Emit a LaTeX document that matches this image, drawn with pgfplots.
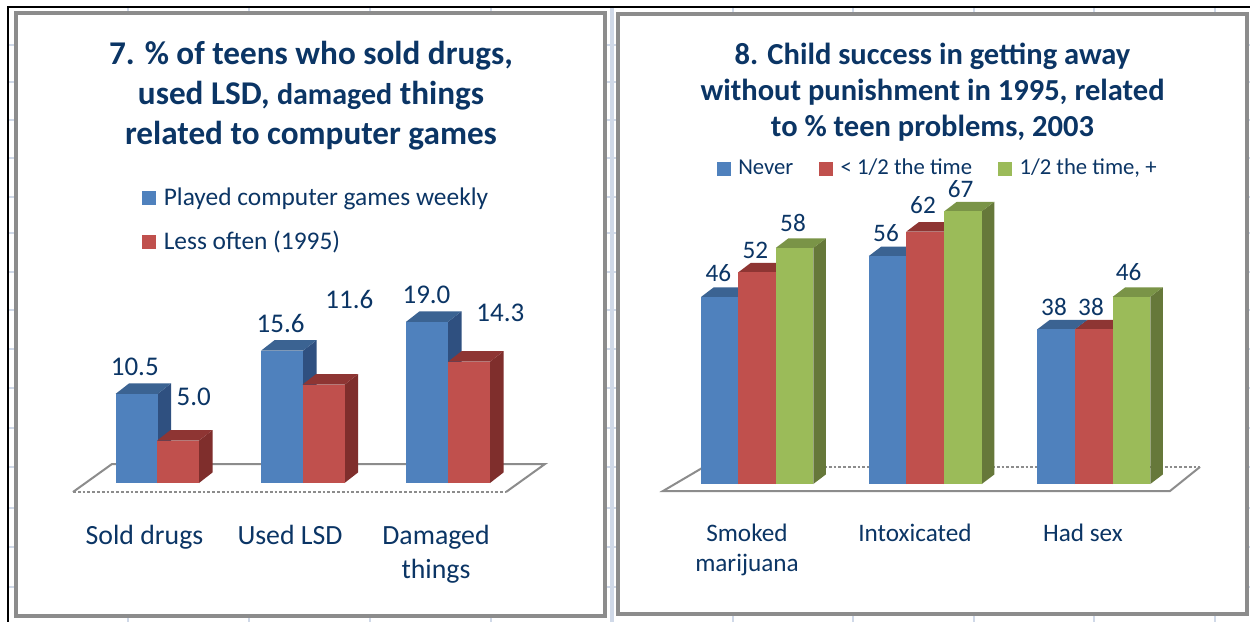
\documentclass[border=0pt]{standalone}
\usepackage{fontspec}
\setmainfont{Carlito}
\usepackage{pgfplots}
\pgfplotsset{compat=1.18}

\definecolor{ink}{HTML}{0B3565}
\definecolor{gridfaint}{HTML}{D0D9E8}
\definecolor{panel}{HTML}{8C8C8C}
\definecolor{bluefront}{HTML}{4F81BD}
\definecolor{blueside}{HTML}{2F5080}
\definecolor{bluetop}{HTML}{3B6392}
\definecolor{redfront}{HTML}{C0504D}
\definecolor{redside}{HTML}{7F2E2C}
\definecolor{redtop}{HTML}{8E3533}
\definecolor{greenfront}{HTML}{9BBB59}
\definecolor{greenside}{HTML}{66783A}
\definecolor{greentop}{HTML}{7A9447}

% one bar: centre x, value, colour stem; uses \bw, \dx and \dyv of the axis
\newcommand{\threedbar}[3]{%
  \addplot[fill=#3side,draw=none,forget plot] coordinates {
    (\fpeval{#1+\bw/2},0) (\fpeval{#1+\bw/2+\dx},\dyv)
    (\fpeval{#1+\bw/2+\dx},\fpeval{#2+\dyv}) (\fpeval{#1+\bw/2},#2)};
  \addplot[fill=#3top,draw=none,forget plot] coordinates {
    (\fpeval{#1-\bw/2},#2) (\fpeval{#1-\bw/2+\dx},\fpeval{#2+\dyv})
    (\fpeval{#1+\bw/2+\dx},\fpeval{#2+\dyv}) (\fpeval{#1+\bw/2},#2)};
  \addplot[ybar,bar width=\bw,bar shift=0pt,fill=#3front,draw=none,forget plot]
    coordinates {(#1,#2)};
}
% value text at page position: x is already in axis units, y goes through base and scale
\newcommand{\vlabel}[3]{\node[text=ink,font=\valfont] at (axis cs:#1,{(\basey-#2)/\scaley}) {#3};}

\pgfplotsset{
  panel axis/.style={
    scale only axis, clip=false,
    axis line style={draw=none}, tick style={draw=none},
    ytick=\empty,
    xticklabel style={align=center,text=ink,anchor=north},
    legend cell align=left,
    legend style={draw=none,fill=none,text=ink},
    legend image code/.code={\fill[##1,draw=none] (0pt,-3.5pt) rectangle (7pt,3.5pt);
      \path (8.5pt,0pt);},
  },
}

\begin{document}
\begin{tikzpicture}
\path[use as bounding box,fill=white] (0,0) rectangle (625pt,-311pt);

% sheet grid behind the two panels
\foreach \yy in {45,82,120,158,197,233,272,310,349,388,428,467,508,547,587}
  \draw[gridfaint,line width=1.3pt] ({9*0.5pt},{-\yy*0.5pt}) -- ({1250*0.5pt},{-\yy*0.5pt});
\foreach \xx in {128,249,370,491,733,853,974,1094,1215}
  \draw[gridfaint,line width=1.3pt] ({\xx*0.5pt},{-8*0.5pt}) -- ({\xx*0.5pt},{-622*0.5pt});
\draw[gridfaint,line width=2pt] (306pt,-4pt) -- (306pt,-311pt);

% sheet edge
\draw[black,line width=1.1pt] (4pt,-311pt) -- (4pt,-3.5pt) -- (625pt,-3.5pt);

% panels
\draw[panel,fill=white,line width=1.6pt] (8pt,-6.5pt) rectangle (302.5pt,-308pt);
\draw[panel,fill=white,line width=1.6pt] (309pt,-7pt) rectangle (623.5pt,-307pt);

% ---- left chart ----
\begin{axis}[
  panel axis,
  at={(8pt,-250pt)}, anchor=south west,
  width=295pt, height=243.5pt,
  xmin=16, xmax=606, ymin=-2.005, ymax=55.42,
  xtick={144.5,290,436},
  xticklabels={Sold drugs,Used LSD,{Damaged\\things}},
  xticklabel style={font=\fontsize{13.9}{17}\selectfont,yshift=-9pt},
  title={7. \% of teens who sold drugs,\\used LSD, {\fontsize{15}{20}\selectfont damaged} things\\related to computer games},
  title style={at={(axis description cs:0.5,0.8049)},anchor=center,align=center,text=ink,yshift=0pt,
    font=\fontsize{16.6}{20}\selectfont\bfseries},
  legend style={at={(axis description cs:0.2034,0.659)},anchor=north west,
    font=\fontsize{12.7}{15}\selectfont,row sep=7.5pt},
]
\def\bw{42}\def\dx{13.5}\def\dyv{1.24}
\def\basey{483}\def\scaley{8.48}
\def\valfont{\fontsize{13.5}{15}\selectfont}

% floor
\addplot[panel,line width=1pt,forget plot] coordinates {(73,-1.06) (112,2.24) (545,2.24) (506,-1.06)};
\addplot[panel,line width=1.4pt,densely dotted,forget plot] coordinates {(73,-1.06) (506,-1.06)};

\threedbar{136.5}{10.5}{blue}
\threedbar{178}{5.0}{red}
\threedbar{282}{15.6}{blue}
\threedbar{323.5}{11.6}{red}
\threedbar{427}{19.0}{blue}
\threedbar{469}{14.3}{red}

\vlabel{134.8}{366.7}{10.5}
\vlabel{193.7}{397}{5.0}
\vlabel{280.6}{323}{15.6}
\vlabel{349.4}{299}{11.6}
\vlabel{426.5}{294.7}{19.0}
\vlabel{500.4}{312.7}{14.3}

\addlegendimage{fill=bluefront}
\addlegendentry{Played computer games weekly}
\addlegendimage{fill=redfront}
\addlegendentry{Less often (1995)}
\end{axis}

% ---- right chart ----
\begin{axis}[
  panel axis,
  at={(309pt,-250pt)}, anchor=south west,
  width=314.5pt, height=243pt,
  xmin=618, xmax=1247, ymin=-3.93, ymax=115.48,
  xtick={747,915,1083},
  xticklabels={{Smoked\\marijuana},Intoxicated,Had sex},
  xticklabel style={font=\fontsize{12.6}{15}\selectfont,yshift=-8.5pt},
  title={8. Child success in getting away\\without punishment in 1995, related\\to \% teen problems, 2003},
  title style={at={(axis description cs:0.5,0.8153)},anchor=center,align=center,text=ink,yshift=0pt,
    font=\fontsize{15.26}{18}\selectfont\bfseries},
  legend columns=3,
  legend style={at={(axis description cs:0.147,0.7185)},anchor=north west,
    font=\fontsize{11.35}{13}\selectfont,
    /tikz/every even column/.append style={column sep=11pt}},
]
\def\bw{37.5}\def\dx{12.5}\def\dyv{2.33}
\def\basey{484}\def\scaley{4.07}
\def\valfont{\fontsize{12.6}{15}\selectfont}

% floor
\addplot[panel,line width=1.4pt,densely dotted,forget plot] coordinates {(704,4.2) (1200,4.2)};
\addplot[panel,line width=1pt,forget plot] coordinates {(1200,4.2) (1170,-1.72) (663,-1.72) (704,4.2)};

\threedbar{720}{46}{blue}
\threedbar{757}{52}{red}
\threedbar{794.5}{58}{green}
\threedbar{887.5}{56}{blue}
\threedbar{925}{62}{red}
\threedbar{963}{67}{green}
\threedbar{1056}{38}{blue}
\threedbar{1094}{38}{red}
\threedbar{1131.5}{46}{green}

\vlabel{718.4}{273}{46}
\vlabel{755.4}{250}{52}
\vlabel{793}{222.7}{58}
\vlabel{886}{232.7}{56}
\vlabel{923}{205}{62}
\vlabel{960.7}{189.3}{67}
\vlabel{1054}{306.7}{38}
\vlabel{1091}{306.7}{38}
\vlabel{1128.6}{271.7}{46}

\addlegendimage{fill=bluefront}
\addlegendentry{Never}
\addlegendimage{fill=redfront}
\addlegendentry{< 1/2 the time}
\addlegendimage{fill=greenfront}
\addlegendentry{1/2 the time, +}
\end{axis}
\end{tikzpicture}
\end{document}
